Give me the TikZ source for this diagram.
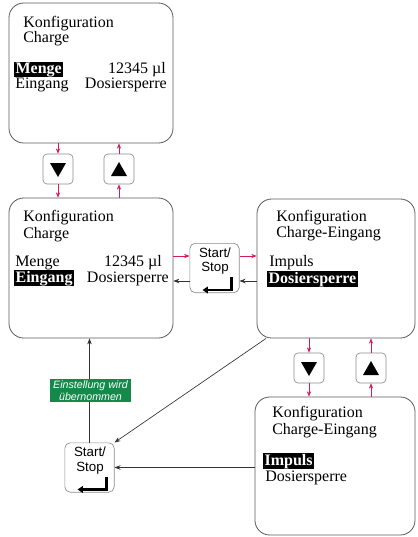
\documentclass[tikz,border=0pt]{standalone}
\usepackage{fontspec}
\setmainfont{Liberation Serif}
\setsansfont{Liberation Sans}
\usetikzlibrary{arrows.meta}
\definecolor{KFRed}{HTML}{D41C5C}
\definecolor{KFGreen}{HTML}{14894A}
\definecolor{KFLine}{HTML}{5A5A5A}
\definecolor{KFKey}{HTML}{8C8C8C}
\tikzset{
  screen/.style={draw=KFLine,line width=.6pt,rounded corners=11pt,inner sep=0pt},
  navkey/.style={draw=KFKey,line width=.5pt,rounded corners=3pt,minimum width=22.5pt,minimum height=22.5pt,inner sep=0pt},
  enterkey/.style={draw=KFKey,line width=.5pt,rounded corners=4pt,minimum width=37pt,minimum height=37pt,inner sep=0pt},
  keytext/.style={font=\sffamily\fontsize{10}{11}\selectfont,align=center,inner sep=0pt},
  txt/.style={font=\fontsize{12}{14}\selectfont,inner sep=0pt,anchor=base west},
  txtr/.style={txt,anchor=base east},
  hl/.style={fill=black,text=white,font=\bfseries\fontsize{12}{14}\selectfont,inner xsep=1pt,inner ysep=.4pt,anchor=base west},
  note/.style={fill=KFGreen,text=white,font=\sffamily\itshape\fontsize{8}{9}\selectfont,align=center,inner xsep=2pt,inner ysep=1.2pt},
  redarr/.style={draw=KFRed,line width=.5pt,-{Stealth[length=4pt,width=3.2pt]}},
  blkarr/.style={draw=black!80,line width=.5pt,-{Stealth[length=4.5pt,width=3.4pt]}},
  retline/.style={line width=1.6pt,-{Triangle[length=4pt,width=5pt]}}
}
\newcommand\downmark[1]{\fill[shift={(#1)}] (-8,-6) -- (8,-6) -- (0,8) -- cycle;}
\newcommand\upmark[1]{\fill[shift={(#1)}] (-8,7) -- (8,7) -- (0,-7) -- cycle;}
\newcommand\retmark[1]{\draw[retline,shift={(#1)}] (17,9) -- (17,22) -- (-12,22);}

\begin{document}
\begin{tikzpicture}[x=.75pt,y=-.75pt]
\path[use as bounding box] (0,0) rectangle (418,537);
% screens
\node[screen,minimum width=123pt,minimum height=105pt] (boxA) at (91,73) {};
\node[screen,minimum width=123pt,minimum height=105pt] (boxB) at (91,268) {};
\node[screen,minimum width=118.5pt,minimum height=104.25pt] (boxC) at (336,268.5) {};
\node[screen,minimum width=120pt,minimum height=103.5pt] (boxD) at (335,466) {};
% screen texts
\node[txt] (aTitle) at (23,27) {Konfiguration};
\node[txt] (aSub) at (23,42) {Charge};
\node[hl] (aMenge) at (14,73) {Menge};
\node[txtr] (aVal) at (166,73) {12345 µl};
\node[txt] (aEin) at (15,88) {Eingang};
\node[txtr] (aDos) at (167,88) {Dosiersperre};
\node[txt] (bTitle) at (23,221) {Konfiguration};
\node[txt] (bSub) at (23,238) {Charge};
\node[txt] (bMenge) at (15,266) {Menge};
\node[txtr] (bVal) at (162,266) {12345 µl};
\node[hl] (bEin) at (14,282) {Eingang};
\node[txtr] (bDos) at (169,282) {Dosiersperre};
\node[txt] (cTitle) at (276,221) {Konfiguration};
\node[txt] (cSub) at (276,237) {Charge-Eingang};
\node[txt] (cImp) at (269,266) {Impuls};
\node[hl] (cDos) at (267,283) {Dosiersperre};
\node[txt] (dTitle) at (272,417) {Konfiguration};
\node[txt] (dSub) at (272,434) {Charge-Eingang};
\node[hl] (dImp) at (263,465) {Impuls};
\node[txt] (dDos) at (265,481) {Dosiersperre};
% keys
\node[navkey] (dnA) at (58,169) {};
\node[navkey] (upA) at (119,169) {};
\node[navkey] (dnC) at (309,368) {};
\node[navkey] (upC) at (371,368) {};
\downmark{dnA}
\upmark{upA}
\downmark{dnC}
\upmark{upC}
\node[enterkey] (midkey) at (214.5,268) {};
\node[keytext] (midkeytxt) at (215,261) {Start/\\Stop};
\retmark{midkey}
\node[enterkey] (botkey) at (89.5,467.5) {};
\node[keytext] (botkeytxt) at (90,460.5) {Start/\\Stop};
\retmark{botkey}
% connectors
\draw[redarr] (dnA |- boxA.south) -- (dnA.north);
\draw[redarr] (dnA.south) -- (dnA |- boxB.north);
\draw[redarr] (upA.north) -- (upA |- boxA.south);
\draw[redarr] (upA |- boxB.north) -- (upA.south);
\draw[redarr] (dnC |- boxC.south) -- (dnC.north);
\draw[redarr] (dnC.south) -- (dnC |- boxD.north);
\draw[redarr] (upC.north) -- (upC |- boxC.south);
\draw[redarr] (upC |- boxD.north) -- (upC.south);
\coordinate (midhi) at (214.5,256);
\coordinate (midlo) at (214.5,281);
\draw[redarr] (boxB.east |- midhi) -- (midkey.west |- midhi);
\draw[blkarr] (midkey.west |- midlo) -- (boxB.east |- midlo);
\draw[redarr] (midkey.east |- midhi) -- (boxC.west |- midhi);
\draw[blkarr] (boxC.west |- midlo) -- (midkey.east |- midlo);
\draw[blkarr] (boxC.-135) -- (botkey.north east);
\draw[blkarr] (boxD.west |- botkey.east) -- (botkey.east);
\draw[blkarr] (botkey.north) -- (botkey.north |- boxB.south);
\node[note] (notelbl) at (90.5,390.5) {Einstellung wird\\übernommen};
\end{tikzpicture}
\end{document}
